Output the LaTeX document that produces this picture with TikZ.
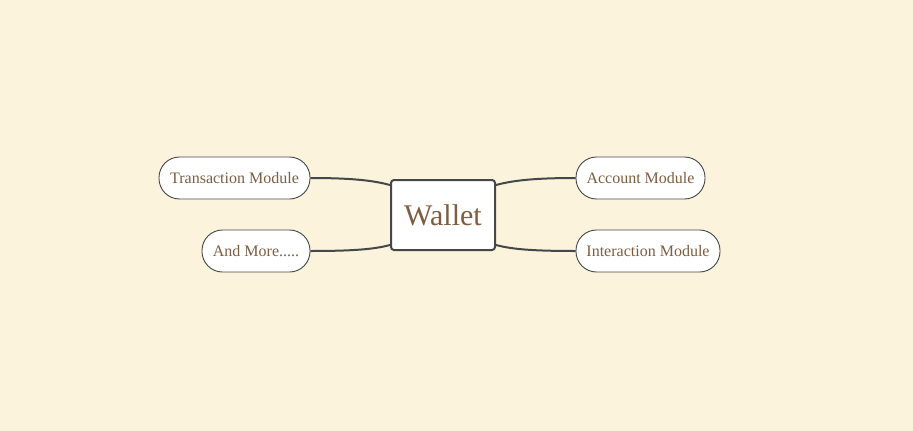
\documentclass[tikz,border=0pt]{standalone}
\usepackage{fontspec}
\setmainfont{Liberation Serif}
\definecolor{bg}{HTML}{FCF3DD}
\definecolor{txt}{HTML}{7E5D40}
\definecolor{edge}{HTML}{45484A}
\begin{document}
\begin{tikzpicture}[x=1pt,y=-1pt,
  leaf/.style={draw=edge,line width=0.9pt,fill=white,rounded corners=20.5pt,minimum height=42pt,inner sep=0pt,text=txt,font=\fontsize{16}{19}\selectfont},
  center/.style={draw=edge,line width=2pt,fill=white,rounded corners=3pt,minimum width=104pt,minimum height=70pt,inner sep=0pt,text=txt,font=\fontsize{30}{35}\selectfont},
  link/.style={draw=edge,line width=2pt}]
\fill[bg] (0,0) rectangle (913,431);
\useasboundingbox (0,0) rectangle (913,431);
\node[center] (w) at (443,215) {Wallet};
\node[leaf,minimum width=151pt] (tm) at (234.5,178) {Transaction Module};
\node[leaf,minimum width=108pt] (am) at (256,251) {And More.....};
\node[leaf,minimum width=129pt] (ac) at (640.5,178) {Account Module};
\node[leaf,minimum width=144pt] (im) at (648,251) {Interaction Module};
\coordinate (wlt) at ([yshift=-6pt]w.north west);
\coordinate (wlb) at ([yshift=6pt]w.south west);
\coordinate (wrt) at ([yshift=-6pt]w.north east);
\coordinate (wrb) at ([yshift=6pt]w.south east);
\draw[link] (tm.east) .. controls +(45,0) and +(-15,-4) .. (wlt);
\draw[link] (am.east) .. controls +(45,0) and +(-15,4) .. (wlb);
\draw[link] (ac.west) .. controls +(-45,0) and +(15,-4) .. (wrt);
\draw[link] (im.west) .. controls +(-45,0) and +(15,4) .. (wrb);
\end{tikzpicture}
\end{document}
